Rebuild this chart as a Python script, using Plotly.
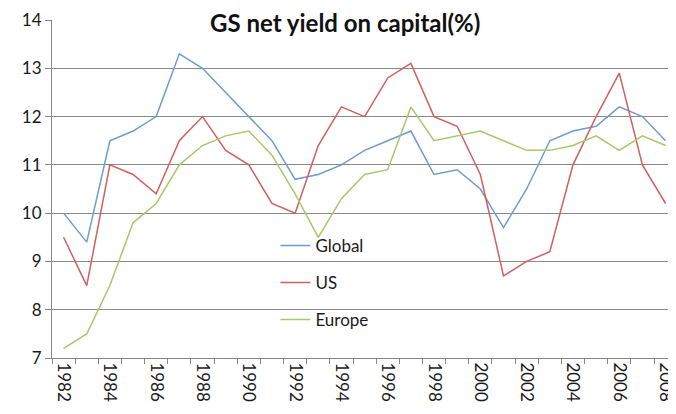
import plotly.graph_objects as go

years = list(range(1982, 2009))
global_vals = [10.0, 9.4, 11.5, 11.7, 12.0, 13.3, 13.0, 12.5, 12.0, 11.5, 10.7, 10.8, 11.0, 11.3,
               11.5, 11.7, 10.8, 10.9, 10.5, 9.7, 10.5, 11.5, 11.7, 11.8, 12.2, 12.0, 11.5]
us_vals = [9.5, 8.5, 11.0, 10.8, 10.4, 11.5, 12.0, 11.3, 11.0, 10.2, 10.0, 11.4, 12.2, 12.0,
           12.8, 13.1, 12.0, 11.8, 10.8, 8.7, 9.0, 9.2, 11.0, 12.0, 12.9, 11.0, 10.2]
europe_vals = [7.2, 7.5, 8.5, 9.8, 10.2, 11.0, 11.4, 11.6, 11.7, 11.2, 10.4, 9.5, 10.3, 10.8,
               10.9, 12.2, 11.5, 11.6, 11.7, 11.5, 11.3, 11.3, 11.4, 11.6, 11.3, 11.6, 11.4]
series = [("Global", global_vals, "#6f9bd1"),
          ("US", us_vals, "#d0605d"),
          ("Europe", europe_vals, "#a6c96a")]
title_text = "GS net yield on capital(%)"

fig = go.Figure()
for name, vals, color in series:
    fig.add_trace(go.Scatter(x=years, y=vals, name=name, mode="lines",
                             line=dict(color=color, width=1.5), legendgroup=name))

font_family = "Lato, 'Open Sans', sans-serif"
# page body has an 8px default margin, so the figure is sized to fit the window
fig.update_layout(
    width=668, height=406,
    margin=dict(l=44, r=0, t=12, b=56, autoexpand=False),
    paper_bgcolor="white", plot_bgcolor="white",
    font=dict(family=font_family, size=17, color="#1a1a1a"),
    showlegend=True,
    legend=dict(x=0.358, y=0.385, xanchor="left", yanchor="top",
                bgcolor="rgba(0,0,0,0)", tracegroupgap=12,
                traceorder="grouped", itemwidth=30,
                font=dict(size=17, color="#1a1a1a")),
    annotations=[dict(text="<b>" + title_text + "</b>", xref="paper", yref="paper",
                      x=0.47, y=0.993, yanchor="middle", xanchor="center", showarrow=False,
                      font=dict(size=24, color="#111", family=font_family))],
)
fig.update_xaxes(range=[1981.5, 2008.45], tickmode="linear", tick0=1982, dtick=2,
                 tickangle=90, ticks="", showgrid=False, zeroline=False, automargin=False,
                 ticklabeloverflow="allow",
                 showline=True, linecolor="#888", linewidth=1,
                 minor=dict(ticks="outside", tick0=1981.5, dtick=1, ticklen=5,
                            tickcolor="#888", showgrid=False),
                 tickfont=dict(size=17))
fig.update_yaxes(range=[7, 14], dtick=1, showgrid=True, gridcolor="#8a8a8a", gridwidth=1,
                 zeroline=False, showline=True, linecolor="#888", linewidth=1, automargin=False,
                 ticks="outside", ticklen=6, tickcolor="#888", tickfont=dict(size=17))

fig.write_html("out.html")
